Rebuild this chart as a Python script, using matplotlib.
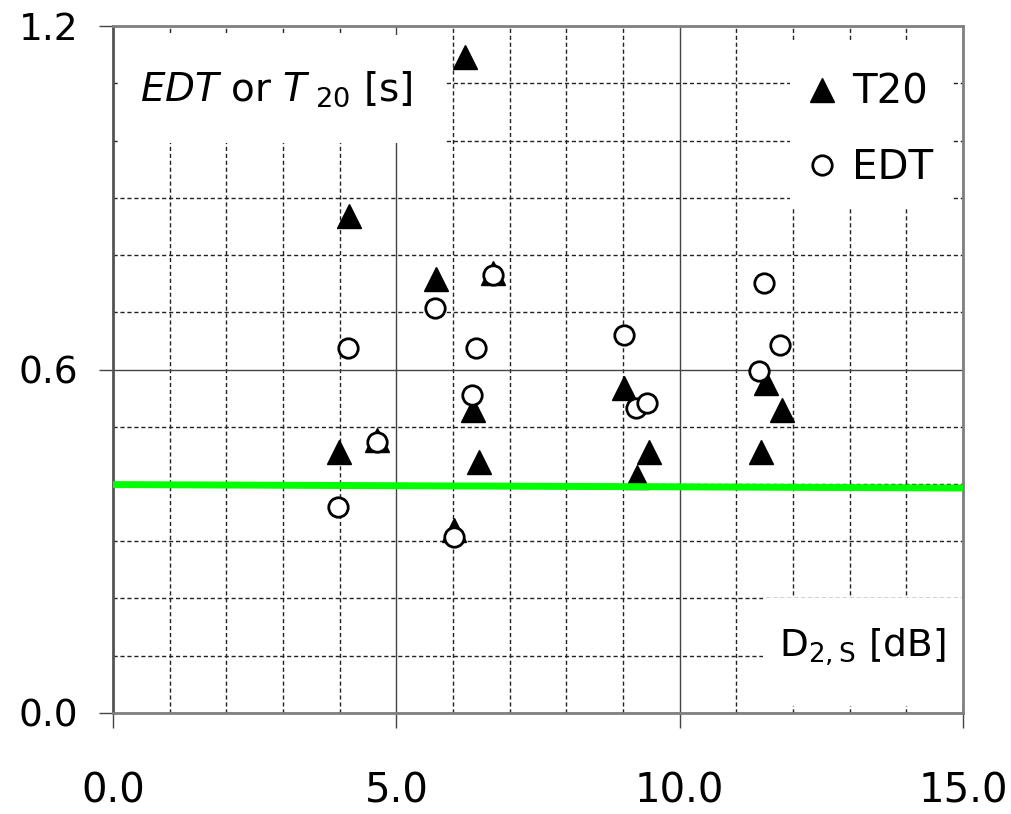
import matplotlib
matplotlib.use("Agg")
import matplotlib.pyplot as plt
from matplotlib.lines import Line2D
from matplotlib.patches import Rectangle
from matplotlib.ticker import MultipleLocator

plt.rcParams['font.family'] = ['DejaVu Sans']
plt.rcParams['mathtext.fontset'] = 'custom'
plt.rcParams['mathtext.rm'] = 'DejaVu Sans'
plt.rcParams['mathtext.it'] = 'DejaVu Sans:italic'

# T20 values
t20_x = [3.99, 4.16, 4.66, 5.70, 6.02, 6.21, 6.35, 6.45, 6.71, 9.02, 9.25, 9.45, 11.43, 11.52, 11.80]
t20_y = [0.456, 0.868, 0.477, 0.758, 0.320, 1.146, 0.529, 0.439, 0.769, 0.567, 0.412, 0.456, 0.456, 0.576, 0.529]

# EDT values
edt_x = [3.97, 4.15, 4.65, 5.68, 6.01, 6.33, 6.41, 6.71, 9.01, 9.23, 9.42, 11.40, 11.49, 11.77]
edt_y = [0.359, 0.638, 0.474, 0.707, 0.308, 0.555, 0.637, 0.765, 0.661, 0.532, 0.541, 0.598, 0.752, 0.643]

# green reference line
ref_x = [0.0, 15.0]
ref_y = [0.399, 0.393]

x_ticks = [0.0, 5.0, 10.0, 15.0]
y_ticks = [0.0, 0.6, 1.2]

fig = plt.figure(figsize=(10.12, 8.14), dpi=100)
ax = fig.add_axes([0.1117, 0.1241, 0.8399, 0.8439])

ax.set_xlim(0, 15)
ax.set_ylim(0, 1.2)

# grid
ax.xaxis.set_minor_locator(MultipleLocator(1.0))
ax.yaxis.set_minor_locator(MultipleLocator(0.1))
ax.grid(which='major', color='#444444', linestyle='-', linewidth=1.0)
ax.grid(which='minor', color='#222222', linestyle=(0, (3, 2)), linewidth=1.0)
ax.set_axisbelow(True)

ax.set_xticks(x_ticks)
ax.set_yticks(y_ticks)
ax.set_xticklabels([f"{v:.1f}" for v in x_ticks])
ax.set_yticklabels([f"{v:.1f}" for v in y_ticks])
ax.tick_params(axis='x', which='major', direction='out', length=11, width=1, color='#444444',
               pad=31, labelsize=29)
ax.tick_params(axis='y', which='major', direction='out', length=10, width=1, color='#444444',
               pad=15, labelsize=27)
ax.tick_params(which='minor', length=0)

for side in ['left', 'bottom', 'top', 'right']:
    ax.spines[side].set_color('#808080')
    ax.spines[side].set_linewidth(2)
ax.spines['left'].set_color('#555555')

# white boxes behind the labels
for (bx, by, bw, bh) in [(0.006, 0.830, 0.385, 0.157),
                         (0.796, 0.737, 0.191, 0.240),
                         (0.765, 0.010, 0.235, 0.157)]:
    ax.add_patch(Rectangle((bx, by), bw, bh, transform=ax.transAxes,
                           facecolor='white', edgecolor='none', zorder=1))

# data
ax.plot(t20_x, t20_y, linestyle='none', marker='^', markersize=17, color='black', zorder=3)
ax.plot(edt_x, edt_y, linestyle='none', marker='o', markersize=14, markerfacecolor='white',
        markeredgecolor='black', markeredgewidth=2, zorder=4)
ax.plot(ref_x, ref_y, color='#00ff00', linewidth=5, zorder=5, solid_capstyle='butt')

# labels
ax.text(0.032, 0.908, r'$\mathit{EDT}$ or $\mathit{T}_{\ \mathrm{20}}$ [s]', transform=ax.transAxes,
        fontsize=28, ha='left', va='center', zorder=2)
ax.text(0.979, 0.095, r'$\mathrm{D}_{\mathrm{2,S}}$ [dB]', transform=ax.transAxes,
        fontsize=27, ha='right', va='center', zorder=2)

handles = [
    Line2D([], [], linestyle='none', marker='^', markersize=17, color='black'),
    Line2D([], [], linestyle='none', marker='o', markersize=14, markerfacecolor='white',
           markeredgecolor='black', markeredgewidth=2),
]
leg = ax.legend(handles, ['T20', 'EDT'], loc='upper left', bbox_to_anchor=(0.768, 0.985),
                fontsize=29, frameon=False, handlelength=1.0, handletextpad=0.25,
                labelspacing=0.88, borderpad=0.4)
leg.set_zorder(2)

fig.savefig('out.png', dpi=100, facecolor='white')
